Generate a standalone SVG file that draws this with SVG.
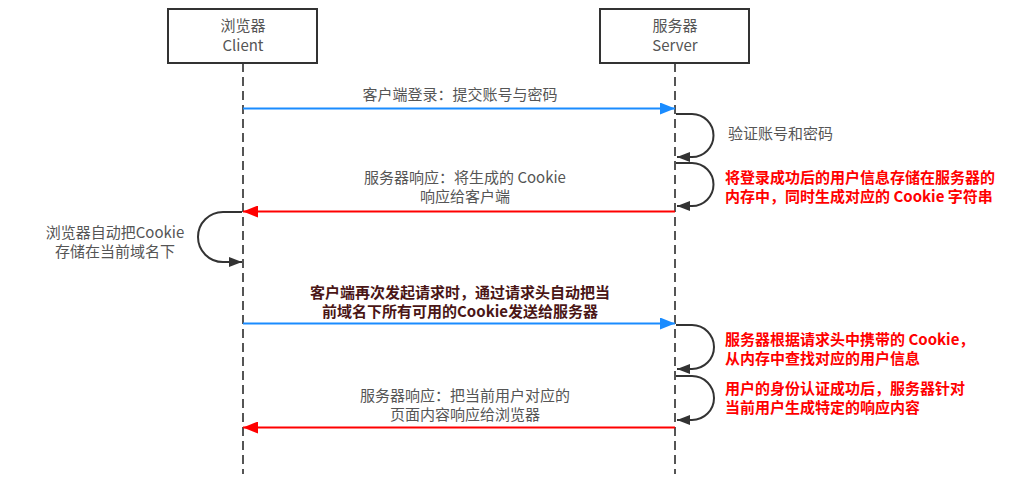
<svg xmlns="http://www.w3.org/2000/svg" width="1027" height="484" viewBox="0 0 1027 484">
<defs>
<style>
.t{font-family:"Noto Sans CJK SC","Liberation Sans",sans-serif;font-size:15px;fill:#555}
.c{text-anchor:middle}
.r{font-family:"Noto Sans CJK SC","Liberation Sans",sans-serif;font-size:15px;font-weight:bold;fill:#ff0000}
.d{font-family:"Noto Sans CJK SC","Liberation Sans",sans-serif;font-size:15px;font-weight:bold;fill:#4a1616;text-anchor:middle}
.box{fill:#fff;stroke:#333;stroke-width:2}
.life{stroke:#555;stroke-width:2;stroke-dasharray:9,5;fill:none}
.blue{stroke:#1a8cff;stroke-width:2;fill:none}
.red{stroke:#ff0000;stroke-width:2;fill:none}
.loop{stroke:#333;stroke-width:2;fill:none}
</style>
<marker id="ab" markerUnits="userSpaceOnUse" markerWidth="16" markerHeight="12" refX="15" refY="6" orient="auto"><path d="M0,0 L15,6 L0,12 z" fill="#1a8cff"/></marker>
<marker id="ar" markerUnits="userSpaceOnUse" markerWidth="16" markerHeight="12" refX="15" refY="6" orient="auto"><path d="M0,0 L15,6 L0,12 z" fill="#ff0000"/></marker>
<marker id="ak" markerUnits="userSpaceOnUse" markerWidth="14" markerHeight="12" refX="13" refY="5" orient="auto"><path d="M0,0 L13,5 L0,10 z" fill="#333"/></marker>
</defs>
<rect width="1027" height="484" fill="#fff"/>
<g id="client">
<line class="life" x1="243" y1="63" x2="243" y2="474"/>
<rect class="box" x="168" y="9" width="149" height="54"/>
<text class="t c" x="243" y="31">浏览器</text>
<text class="t c" x="243" y="51">Client</text>
</g>
<g id="server">
<line class="life" x1="675" y1="63" x2="675" y2="474"/>
<rect class="box" x="600" y="9" width="149" height="54"/>
<text class="t c" x="675" y="31">服务器</text>
<text class="t c" x="675" y="51">Server</text>
</g>
<g id="connectors">
<line class="blue" x1="243" y1="108.5" x2="675" y2="108.5" marker-end="url(#ab)"/>
<path class="loop" d="M676,114 H692 A21.5,21.5 0 0 1 692,157 H677" marker-end="url(#ak)"/>
<path class="loop" d="M676,163 H692 A21.5,21.5 0 0 1 692,206 H677" marker-end="url(#ak)"/>
<line class="red" x1="675" y1="211.5" x2="243" y2="211.5" marker-end="url(#ar)"/>
<path class="loop" d="M242,212 H223 A25,25 0 0 0 223,262 H242" marker-end="url(#ak)"/>
<line class="blue" x1="243" y1="323.5" x2="675" y2="323.5" marker-end="url(#ab)"/>
<path class="loop" d="M676,325 H692 A22,22 0 0 1 692,369 H677" marker-end="url(#ak)"/>
<path class="loop" d="M676,376 H692 A22,22 0 0 1 692,420 H677" marker-end="url(#ak)"/>
<line class="red" x1="675" y1="427.5" x2="243" y2="427.5" marker-end="url(#ar)"/>
</g>
<g id="labels">
<text class="t c" x="460" y="100">客户端登录：提交账号与密码</text>
<text class="t" x="728" y="139">验证账号和密码</text>
<text class="r" x="725" y="183">将登录成功后的用户信息存储在服务器的</text>
<text class="r" x="725" y="202">内存中，同时生成对应的 Cookie 字符串</text>
<text class="t c" x="465" y="183">服务器响应：将生成的 Cookie</text>
<text class="t c" x="465" y="202">响应给客户端</text>
<text class="t c" x="115" y="238">浏览器自动把Cookie</text>
<text class="t c" x="115" y="257">存储在当前域名下</text>
<text class="d" x="460" y="298">客户端再次发起请求时，通过请求头自动把当</text>
<text class="d" x="460" y="317">前域名下所有可用的Cookie发送给服务器</text>
<text class="r" x="725" y="345">服务器根据请求头中携带的 Cookie，</text>
<text class="r" x="725" y="364">从内存中查找对应的用户信息</text>
<text class="r" x="725" y="394">用户的身份认证成功后，服务器针对</text>
<text class="r" x="725" y="413">当前用户生成特定的响应内容</text>
<text class="t c" x="465" y="401">服务器响应：把当前用户对应的</text>
<text class="t c" x="465" y="420">页面内容响应给浏览器</text>
</g>
</svg>
